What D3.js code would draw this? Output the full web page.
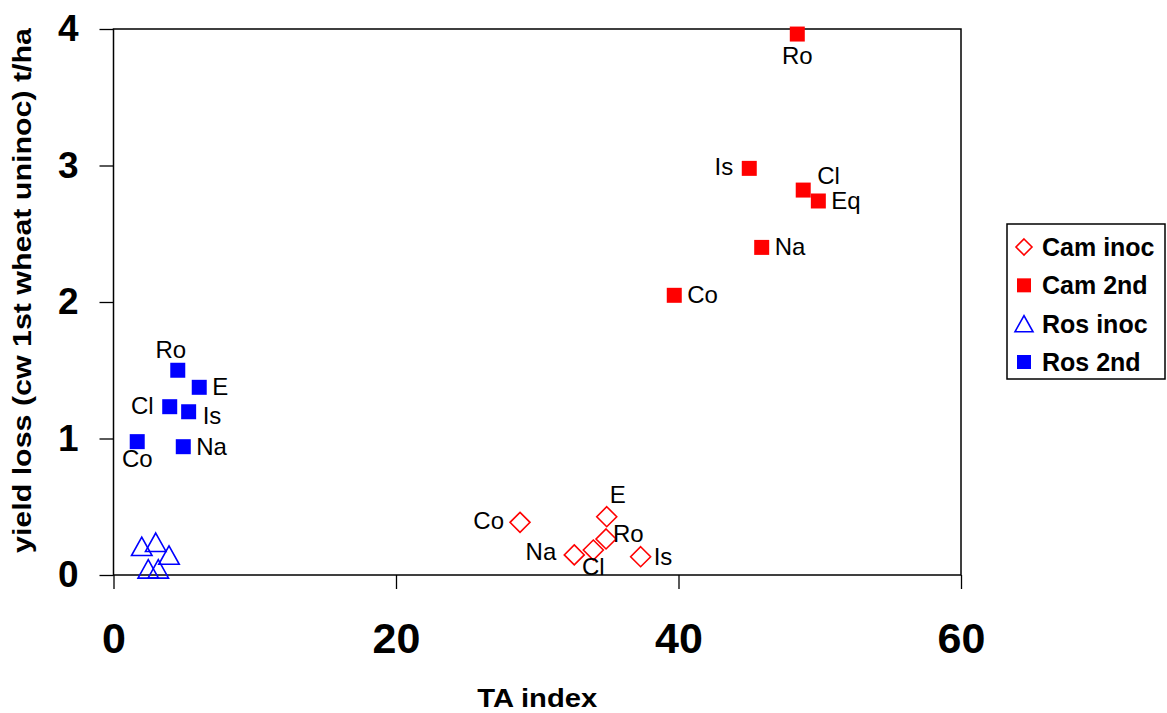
<!DOCTYPE html>
<html>
<head>
<meta charset="utf-8">
<script src="https://cdn.jsdelivr.net/npm/d3@7"></script>
<style>
  html, body { margin: 0; padding: 0; background: #fff; }
  svg { display: block; font-family: "Liberation Sans", Arial, sans-serif; }
</style>
</head>
<body>
<svg id="chart" width="1167" height="713"></svg>
<script>
// ---------------- data ----------------
const seriesNames = ["Cam inoc", "Cam 2nd", "Ros inoc", "Ros 2nd"];

const camInocLabels = ["Co", "E", "Ro", "Cl", "Na", "Is"];
const camInocX      = [28.78, 34.92, 34.87, 33.97, 32.62, 37.32];
const camInocY      = [0.386, 0.427, 0.264, 0.183, 0.147, 0.134];

const cam2ndLabels  = ["Ro", "Is", "Cl", "Eq", "Na", "Co"];
const cam2ndX       = [48.41, 45.01, 48.83, 49.90, 45.89, 39.70];
const cam2ndY       = [3.963, 2.979, 2.820, 2.740, 2.400, 2.049];

const rosInocLabels = ["", "", "", "", ""];
const rosInocX      = [2.00, 2.99, 3.93, 2.46, 3.17];
const rosInocY      = [0.21, 0.24, 0.146, 0.045, 0.045];

const ros2ndLabels  = ["Ro", "E", "Cl", "Is", "Co", "Na"];
const ros2ndX       = [4.55, 6.07, 3.98, 5.32, 1.68, 4.94];
const ros2ndY       = [1.500, 1.375, 1.233, 1.196, 0.977, 0.940];

const xTicks = [0, 20, 40, 60];
const yTicks = [0, 1, 2, 3, 4];
const xTitle = "TA index";
const yTitle = "yield loss (cw 1st wheat uninoc) t/ha";

// label placement keywords (style, not data)
const camInocPlace = ["l", "t", "r2", "b", "l2", "r"];
const cam2ndPlace  = ["b2", "l", "tr", "r", "r", "r"];
const ros2ndPlace  = ["tl", "r", "l", "br", "b", "r"];

// ---------------- layout ----------------
const svg = d3.select("#chart");
const plot = { left: 113.5, right: 961, top: 29, bottom: 575 };

const x = d3.scaleLinear().domain([0, 60]).range([plot.left, plot.right]);
const y = d3.scaleLinear().domain([0, 4]).range([plot.bottom, plot.top]);

const placeOffsets = {
  r:  { dx: 13,  dy: 8,   anchor: "start" },
  r2: { dx: 7,   dy: 3,   anchor: "start" },
  l:  { dx: -16, dy: 7,   anchor: "end" },
  l2: { dx: -18, dy: 5,   anchor: "end" },
  t:  { dx: 11,  dy: -14, anchor: "middle" },
  tl: { dx: -7,  dy: -12, anchor: "middle" },
  tr: { dx: 14,  dy: -6,  anchor: "start" },
  b:  { dx: 0,   dy: 25,  anchor: "middle" },
  b2: { dx: 0,   dy: 30,  anchor: "middle" },
  br: { dx: 14,  dy: 12,  anchor: "start" }
};

// ---------------- frame ----------------
svg.append("rect")
  .attr("x", plot.left).attr("y", plot.top)
  .attr("width", plot.right - plot.left).attr("height", plot.bottom - plot.top)
  .attr("fill", "none").attr("stroke", "#000").attr("stroke-width", 1.5);

// ---------------- axes ----------------
const yAxis = d3.axisLeft(y).tickValues(yTicks).tickSize(14).tickSizeOuter(0).tickPadding(21).tickFormat(d3.format("d"));
const gy = svg.append("g").attr("transform", `translate(${plot.left},0)`).call(yAxis);
gy.select(".domain").remove();
gy.selectAll(".tick line").attr("stroke", "#000").attr("stroke-width", 1.3);
gy.selectAll(".tick text")
  .attr("font-size", 37).attr("font-weight", "bold").attr("fill", "#000")
  .attr("font-family", "'Liberation Sans', Arial, sans-serif");

const xAxis = d3.axisBottom(x).tickValues(xTicks).tickSize(14).tickSizeOuter(0).tickFormat(d3.format("d"));
const gx = svg.append("g").attr("transform", `translate(0,${plot.bottom})`).call(xAxis);
gx.select(".domain").remove();
gx.selectAll(".tick line").attr("stroke", "#000").attr("stroke-width", 1.3);
gx.selectAll(".tick text")
  .attr("y", 78).attr("dy", 0)
  .attr("font-size", 43).attr("font-weight", "bold").attr("fill", "#000")
  .attr("font-family", "'Liberation Sans', Arial, sans-serif");

// axis titles
svg.append("text")
  .attr("x", (plot.left + plot.right) / 2).attr("y", 707)
  .attr("text-anchor", "middle").attr("font-size", 26).attr("font-weight", "bold")
  .attr("textLength", 120).attr("lengthAdjust", "spacingAndGlyphs")
  .text(xTitle);

svg.append("text")
  .attr("transform", `translate(31,${(28 + 553) / 2}) rotate(-90)`)
  .attr("text-anchor", "middle").attr("font-size", 25).attr("font-weight", "bold")
  .attr("textLength", 525).attr("lengthAdjust", "spacingAndGlyphs")
  .text(yTitle);

// ---------------- symbols ----------------
const squareSym = { draw(ctx, size) { const h = Math.sqrt(size) / 2; ctx.rect(-h, -h, 2 * h, 2 * h); } };
const diamondSym = { draw(ctx, size) { const r = Math.sqrt(size) / 2; ctx.moveTo(0, -r); ctx.lineTo(r, 0); ctx.lineTo(0, r); ctx.lineTo(-r, 0); ctx.closePath(); } };
const triSym = { draw(ctx, size) { const w = Math.sqrt(size) / 2; const h = w * 0.9; ctx.moveTo(0, -h); ctx.lineTo(w, h); ctx.lineTo(-w, h); ctx.closePath(); } };

function drawSeries(xs, ys, labels, places, sym, size, fill, stroke) {
  const data = xs.map((v, i) => ({ x: v, y: ys[i], label: labels[i], place: places ? places[i] : null }));
  const g = svg.append("g");
  g.selectAll("path").data(data).join("path")
    .attr("transform", d => `translate(${x(d.x)},${y(d.y)})`)
    .attr("d", d3.symbol().type(sym).size(size))
    .attr("fill", fill).attr("stroke", stroke).attr("stroke-width", 1.6);
  if (places) {
    g.selectAll("text").data(data).join("text")
      .attr("x", d => x(d.x) + placeOffsets[d.place].dx)
      .attr("y", d => y(d.y) + placeOffsets[d.place].dy)
      .attr("text-anchor", d => placeOffsets[d.place].anchor)
      .attr("font-size", 24).attr("fill", "#000")
      .text(d => d.label);
  }
}

drawSeries(camInocX, camInocY, camInocLabels, camInocPlace, diamondSym, 400, "none", "#ff0000");
drawSeries(cam2ndX, cam2ndY, cam2ndLabels, cam2ndPlace, squareSym, 225, "#ff0000", "none");
drawSeries(rosInocX, rosInocY, rosInocLabels, null, triSym, 420, "none", "#0000ff");
drawSeries(ros2ndX, ros2ndY, ros2ndLabels, ros2ndPlace, squareSym, 225, "#0000ff", "none");

// ---------------- legend ----------------
const legend = svg.append("g");
legend.append("rect")
  .attr("x", 1007).attr("y", 224).attr("width", 158).attr("height", 155)
  .attr("fill", "#fff").attr("stroke", "#000").attr("stroke-width", 1.5);

const legendSyms = [
  { sym: diamondSym, size: 256, fill: "none", stroke: "#ff0000" },
  { sym: squareSym, size: 196, fill: "#ff0000", stroke: "none" },
  { sym: triSym, size: 324, fill: "none", stroke: "#0000ff" },
  { sym: squareSym, size: 196, fill: "#0000ff", stroke: "none" }
];
const ly = d3.scalePoint().domain(seriesNames).range([247, 362]);
seriesNames.forEach((name, i) => {
  const s = legendSyms[i];
  legend.append("path")
    .attr("transform", `translate(1024,${ly(name)})`)
    .attr("d", d3.symbol().type(s.sym).size(s.size))
    .attr("fill", s.fill).attr("stroke", s.stroke).attr("stroke-width", 1.6);
  legend.append("text")
    .attr("x", 1042).attr("y", ly(name) + 9)
    .attr("font-size", 25).attr("font-weight", "bold").attr("fill", "#000")
    .text(name);
});
</script>
</body>
</html>
